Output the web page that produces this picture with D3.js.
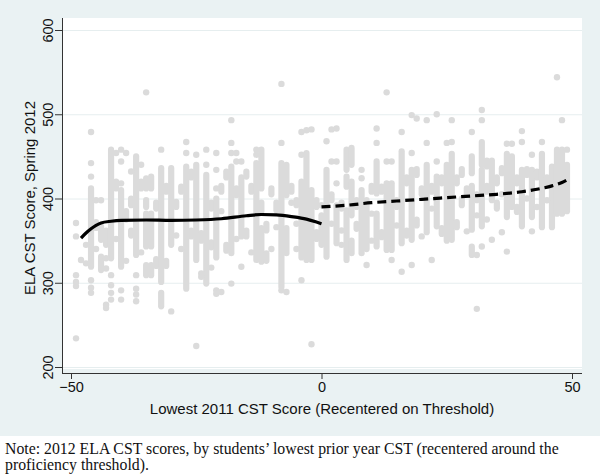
<!DOCTYPE html>
<html>
<head>
<meta charset="utf-8">
<script src="https://cdn.jsdelivr.net/npm/d3@7"></script>
<style>
  body { margin: 0; background: #fff; }
  svg text { font-family: "Liberation Sans", Arial, sans-serif; }
  .note { font-family: "Liberation Serif", "Times New Roman", serif; }
</style>
</head>
<body>
<div id="chart"></div>
<script>
const W = 600, H = 475
const PLOT = { LEFT: 62, RIGHT: 582, TOP: 18, BOTTOM: 369 }
const X_AXIS_Y = 373

// Axis ticks
const xTicks = [-50, 0, 50]
const yTicks = [200, 300, 400, 500, 600]

// Scatter, by recentered 2011 score: "hi-lo" is a dense stack of dots, single numbers are lone dots
const scoreCols = [
  [-49, "371 355 309 301 296 234"],
  [-48, "327"],
  [-47, "323 345"],
  [-46, "479 442 426 412-319 303 294 288"],
  [-45, "398 372-365 340"],
  [-44, "398 367-351 331-315"],
  [-43, "362-345 329 317 274 270"],
  [-42, "458-329 309 297 288 280"],
  [-41, "454 420-412 352"],
  [-40, "458 444 418 410-319 291 280"],
  [-39, "454 385-375 326"],
  [-38, "432 400-392 362-356"],
  [-37, "450-333 309 293 286 278"],
  [-36, "440 420-412 336"],
  [-35, "526 424-412 398-390 382-343 321-309"],
  [-34, "426-412 382-343 321-309"],
  [-33, "395-388 328-320"],
  [-32, "458 436-301 288-272"],
  [-31, "415-408 326-320"],
  [-30, "436-345 266"],
  [-29, "396-390 356"],
  [-28, "414-408 340"],
  [-27, "467 454 438-293"],
  [-26, "432-425 362-355"],
  [-25, "452 440-327 225"],
  [-24, "359-350 311 307"],
  [-23, "458 440 428-299"],
  [-22, "395-388 348-342 318"],
  [-21, "454 434 412 400-330 291 287"],
  [-20, "415-408 385 289"],
  [-19, "432-425 345-338"],
  [-18, "493 466 454 438-335 299"],
  [-17, "454 444 412-404 352"],
  [-16, "444 425-355 319"],
  [-15, "432-426 362-355"],
  [-14, "415-408 336"],
  [-13, "458 452 442-327"],
  [-12, "458-412 395-385 365-325"],
  [-11, "370-362 335-326"],
  [-10, "412-405 340"],
  [-9, "395-386 366"],
  [-8, "536 466 442-295 291"],
  [-7, "440-404 365-335 289"],
  [-6, "415-408 395"],
  [-5, "398-392 370 340"],
  [-4, "479 452 420-330 303"],
  [-3, "481 454-327"],
  [-2, "482 410-327 227"],
  [-1, "398-390 360-352"],
  [0, "392 380-345"],
  [1, "468 434-331"],
  [2, "482 444 405-398 370"],
  [3, "483 444 418 392-347"],
  [4, "395-388 362 345"],
  [5, "458-434 426-414 386-327"],
  [6, "460-440 420-380 350-335"],
  [7, "398-390 370-364"],
  [8, "434 424 410-335"],
  [9, "398-340 321"],
  [10, "415-408 382 350"],
  [11, "483 466 444-406 382-343"],
  [12, "414-408 360-354"],
  [13, "526 444 418-339"],
  [14, "444 418-339 327"],
  [15, "398-390 368"],
  [16, "479 456-347 313"],
  [17, "425-418 362-356"],
  [18, "499 454 434-351 321"],
  [19, "495 435-428 375-368"],
  [20, "412-405 355"],
  [21, "493 466 440-360"],
  [22, "415-408 388 327"],
  [23, "500 444 426-367"],
  [24, "425-418 365-358"],
  [25, "466 440-350"],
  [26, "493 467 453-351"],
  [27, "425-418 372-366"],
  [28, "435-428 400-392"],
  [29, "412-405 361"],
  [30, "479 450-430 415-363 343-333"],
  [31, "405-398 380 333 269"],
  [32, "505 493 467-440 434-367 343"],
  [33, "445-438 415-408 375"],
  [34, "445-398 351"],
  [35, "425-418 395-388"],
  [36, "436-430 405 360"],
  [37, "465 453-378 337"],
  [38, "465 450-390"],
  [39, "425-418 390-384"],
  [40, "480 467 434-367"],
  [41, "435-428 400"],
  [42, "452 434-378 361"],
  [43, "432-425 390"],
  [44, "467 453-366"],
  [45, "425-418 398"],
  [46, "438-366"],
  [47, "544 458-382"],
  [48, "493 458-382"],
  [49, "458 440-385"]
]

// Local fits either side of the threshold
const fitBelow = [[-48, 353], [-47, 359], [-46, 364], [-45, 368], [-44, 371], [-42, 373], [-40, 374],
  [-35, 374.5], [-30, 374], [-25, 374.5], [-20, 376], [-15, 379.5], [-12, 381], [-9, 380.5],
  [-6, 378.5], [-3, 375.5], [-1, 372], [0, 370]]
const fitAbove = [[0, 390], [5, 392], [10, 395], [15, 397], [20, 399], [25, 401], [30, 403],
  [35, 405], [40, 408], [43, 411], [46, 415], [48, 419], [49, 422]]

const svg = d3.select("#chart").append("svg")
  .attr("width", W)
  .attr("height", H)

// graph region and plot region
svg.append("rect").attr("width", W).attr("height", 436).attr("fill", "#eaf2f3")
svg.append("rect")
  .attr("x", PLOT.LEFT).attr("y", PLOT.TOP)
  .attr("width", PLOT.RIGHT - PLOT.LEFT).attr("height", PLOT.BOTTOM - PLOT.TOP)
  .attr("fill", "#fff")

const x = d3.scaleLinear().domain([-50, 50]).range([71, 572])
const y = d3.scaleLinear().domain([200, 600]).range([367, 30])

// grid
svg.append("g").selectAll("line")
  .data(yTicks)
  .enter().append("line")
    .attr("x1", PLOT.LEFT).attr("x2", PLOT.RIGHT)
    .attr("y1", d => y(d) + 0.5).attr("y2", d => y(d) + 0.5)
    .attr("stroke", "#e6eeef")

// scatter
const parts = []
scoreCols.forEach(([sx, s]) => {
  s.split(" ").forEach(t => {
    const [hi, lo] = t.includes("-") ? t.split("-").map(Number) : [+t, +t]
    parts.push({ sx, hi, lo })
  })
})
const dots = svg.append("g")
dots.selectAll("line")
  .data(parts.filter(d => d.hi !== d.lo))
  .enter().append("line")
    .attr("x1", d => x(d.sx)).attr("x2", d => x(d.sx))
    .attr("y1", d => y(d.hi)).attr("y2", d => y(d.lo))
    .attr("stroke", "#dbdbdb")
    .attr("stroke-width", 6.2)
    .attr("stroke-linecap", "round")
dots.selectAll("circle")
  .data(parts.filter(d => d.hi === d.lo))
  .enter().append("circle")
    .attr("cx", d => x(d.sx))
    .attr("cy", d => y(d.hi))
    .attr("r", 3.2)
    .attr("fill", "#dbdbdb")

// fitted lines
const line = d3.line().x(d => x(d[0])).y(d => y(d[1])).curve(d3.curveMonotoneX)
svg.append("path")
  .attr("d", line(fitBelow))
  .attr("fill", "none")
  .attr("stroke", "#000")
  .attr("stroke-width", 3.2)
svg.append("path")
  .attr("d", line(fitAbove))
  .attr("fill", "none")
  .attr("stroke", "#000")
  .attr("stroke-width", 3.2)
  .attr("stroke-dasharray", "9,5")

// axes
const axisColor = "#333"
const xAxis = svg.append("g")
  .attr("transform", `translate(0, ${X_AXIS_Y})`)
  .call(d3.axisBottom(x).tickValues(xTicks).tickSize(6).tickSizeOuter(0))
const yAxis = svg.append("g")
  .attr("transform", `translate(${PLOT.LEFT}, 0)`)
  .call(d3.axisLeft(y).tickValues(yTicks).tickSize(7).tickSizeOuter(0))
svg.selectAll(".domain").remove()
svg.selectAll(".tick line").attr("stroke", axisColor)
svg.selectAll(".tick text").attr("font-size", "14.5px").attr("fill", "#111")
  .style("font-family", "'Liberation Sans', Arial, sans-serif")
yAxis.selectAll(".tick text")
  .attr("transform", "rotate(-90)")
  .attr("x", 0).attr("y", -9).attr("dy", 0)
  .attr("text-anchor", "middle")

svg.append("line")
  .attr("x1", PLOT.LEFT + 0.5).attr("x2", PLOT.LEFT + 0.5)
  .attr("y1", PLOT.TOP).attr("y2", X_AXIS_Y)
  .attr("stroke", axisColor)
svg.append("line")
  .attr("x1", PLOT.LEFT).attr("x2", PLOT.RIGHT)
  .attr("y1", X_AXIS_Y + 0.5).attr("y2", X_AXIS_Y + 0.5)
  .attr("stroke", axisColor)

// titles
svg.append("text")
  .attr("x", 322).attr("y", 414)
  .attr("text-anchor", "middle")
  .attr("font-size", "15px")
  .attr("fill", "#111")
  .text("Lowest 2011 CST Score (Recentered on Threshold)")
svg.append("text")
  .attr("transform", "rotate(-90)")
  .attr("x", -198).attr("y", 35)
  .attr("text-anchor", "middle")
  .attr("font-size", "15px")
  .attr("fill", "#111")
  .text("ELA CST Score, Spring 2012")

// note
const note = svg.append("text")
  .attr("class", "note")
  .attr("font-size", "15.8px")
  .attr("fill", "#111")
note.append("tspan").attr("x", 5).attr("y", 454)
  .text("Note: 2012 ELA CST scores, by students\u2019 lowest prior year CST (recentered around the")
note.append("tspan").attr("x", 5).attr("y", 470)
  .text("proficiency threshold).")
</script>
</body>
</html>
